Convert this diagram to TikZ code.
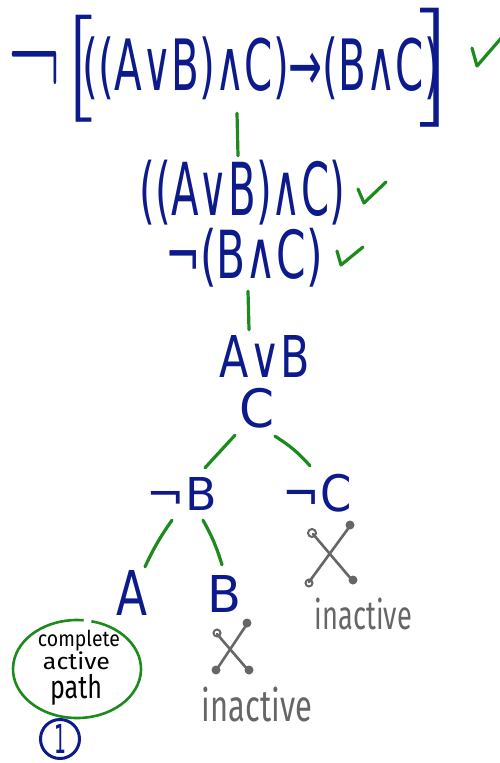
\documentclass[tikz,border=0pt]{standalone}
\usepackage{fontspec}
\usepackage{graphicx}
\newfontfamily\formfont{DejaVu Sans}
\newfontfamily\notefont{Fira Sans}
\definecolor{ink}{RGB}{12,26,140}
\definecolor{tick}{RGB}{28,138,28}
\definecolor{dead}{RGB}{102,102,102}
% scale a piece of text to an exact width and total height (in pt)
\newcommand{\fitbox}[3]{\resizebox*{#1pt}{#2pt}{#3}}
\begin{document}
\begin{tikzpicture}[x=1pt,y=-1pt,
  formula/.style={inner sep=0pt, text=ink, font=\formfont},
  bracket/.style={inner sep=0pt, text=ink, font=\rmfamily},
  note/.style={inner sep=0pt, text=black, font=\notefont},
  deadnote/.style={inner sep=0pt, text=dead, font=\notefont},
  branch/.style={draw=tick, line width=3.2pt, line cap=round},
  checkmark/.style={draw=tick, line width=3.2pt, line cap=round, line join=round},
  xline/.style={draw=dead, line width=2.6pt, line cap=round},
  xend/.style={draw=dead, line width=2pt},
  xblob/.style={fill=dead}]
\useasboundingbox (0,0) rectangle (500,763);

% top formula
\node[bracket] (neg) at (35,77) {\fitbox{52}{52}{¬}};
\node[bracket] (lbr) at (79,68.5) {\fitbox{32}{107}{[}};
\node[formula] (top) at (261.5,68.5) {\fitbox{357}{63}{((A∨B)∧C)→(B∧C)}};
\node[bracket] (rbr) at (437,67.5) {\fitbox{38}{119}{]}};

% the two conjuncts
\node[formula] (conj) at (242.5,192.5) {\fitbox{205}{65}{((A∨B)∧C)}};
\node[formula] (negconj) at (244,257.5) {\fitbox{158}{59}{¬(B∧C)}};

% decomposition
\node[formula] (disj) at (265,356) {\fitbox{90}{42}{A∨B}};
\node[formula] (c) at (257.5,408) {\fitbox{35}{40}{C}};
\node[formula] (nb) at (182,493.5) {\fitbox{70}{33}{¬B}};
\node[formula] (nc) at (317.5,493) {\fitbox{69}{38}{¬C}};
\node[formula] (a) at (132.5,592.5) {\fitbox{31}{45}{A}};
\node[formula] (b) at (225,593.5) {\fitbox{34}{37}{B}};

% tree connectors
\draw[branch] ([shift={(-24.5,13)}]top.south) -- ([shift={(-4.5,-4)}]conj.north);
\draw[branch] ([shift={(4,4)}]negconj.south) -- ([shift={(-16,-5)}]disj.north);
\draw[branch] ([shift={(-22.5,7)}]c.south) -- ([shift={(23,-9)}]nb.north);
\draw[branch] ([shift={(17.5,8)}]c.south) to[bend left=8] ([shift={(-7.5,-8)}]nc.north);
\draw[branch] ([shift={(-10,10)}]nb.south) to[bend right=5] ([shift={(12.5,-3)}]a.north);
\draw[branch] ([shift={(21,10)}]nb.south) to[bend left=6] ([shift={(-3,-10)}]b.north);

% check marks
\draw[checkmark] (472,48) -- (477,66) -- (503,36);
\draw[checkmark] (358,189) -- (364,203) -- (386,182);
\draw[checkmark] (337,251) -- (341,265) -- (363,247);

% closed branch under not-C
\draw[xline] (309,582) -- (350,526);
\draw[xline] (313,534) -- (352,580);
\draw[xend] (312,533) circle (4);
\fill[xblob] (350,525) circle (4.5);
\draw[xend] (309,583) circle (3.5);
\fill[xblob] (353,580) circle (4.5);
\node[deadnote] (dead1) at (363.5,614) {\fitbox{97}{32}{inactive}};

% closed branch under B
\draw[xline] (217,634) -- (248,670);
\draw[xline] (247,624) -- (217,669);
\draw[xend] (217,633) circle (3.5);
\fill[xblob] (247,623) circle (4.5);
\fill[xblob] (216,670) circle (4.5);
\fill[xblob] (249,670) circle (4.5);
\node[deadnote] (dead2) at (257,704.5) {\fitbox{110}{35}{inactive}};

% open branch under A
\draw[draw=tick, line width=2.6pt] (77,669) ++(283:64 and 49) arc[start angle=283, end angle=636, x radius=64, y radius=49];
\node[note] (l1) at (79,640.5) {\fitbox{82}{21}{complete}};
\node[note] (l2) at (76.5,661) {\fitbox{67}{18}{active}};
\node[note] (l3) at (76,689.5) {\fitbox{52}{31}{path}};
\node[draw=ink, line width=3pt, circle, inner sep=0pt, minimum size=39pt, text=ink, font=\formfont] (one) at (60,739) {\fitbox{12}{29}{1}};
\end{tikzpicture}
\end{document}
